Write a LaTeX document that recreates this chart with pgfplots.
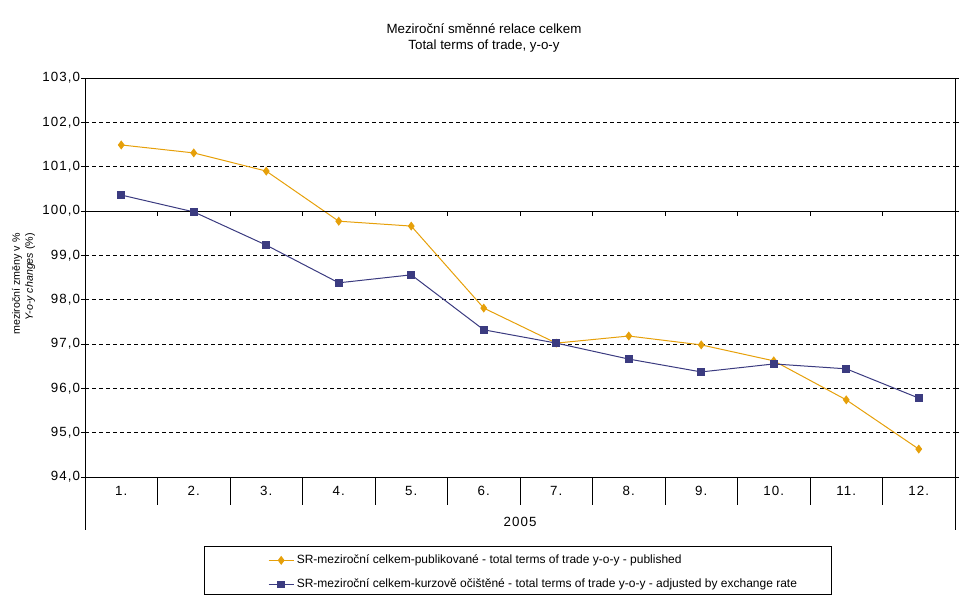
\documentclass[border=0pt]{standalone}
\usepackage{pgfplots}
\pgfplotsset{compat=1.18}
\usepackage{fontspec}
\setmainfont{Liberation Sans}
\newfontfamily\tickfont[LetterSpace=8]{Liberation Sans}
\definecolor{pub}{RGB}{230,160,10}
\definecolor{adj}{RGB}{59,59,128}
\begin{document}
\begin{tikzpicture}
\useasboundingbox (0,0) rectangle (726.75bp,452.25bp);
\begin{axis}[
  at={(63.75bp,94.5bp)}, anchor=south west,
  scale only axis, width=652.5bp, height=299.25bp,
  xmin=0.5, xmax=12.5, ymin=94, ymax=103,
  xtick={1,...,12},
  xticklabels={1.,2.,3.,4.,5.,6.,7.,8.,9.,10.,11.,12.},
  x tick style={draw=none},
  xticklabel style={anchor=center, yshift=-7.5bp},
  ytick={94,...,103},
  tick align=outside, major tick length=3bp,
  y tick style={black, line width=0.75bp},
  yticklabel style={inner xsep=0.5bp, /pgf/number format/.cd, fixed, fixed zerofill, precision=1, use comma},
  /pgf/number format/assume math mode=true,
  ymajorgrids,
  grid style={black, dash pattern=on 3bp off 2.25bp, line width=0.75bp},
  axis line style={line width=0.75bp},
  tick label style={font=\tickfont\fontsize{10bp}{12bp}\selectfont},
  clip=false,
  legend style={draw=none, fill=none, at={(0.2103,-0.1880)}, anchor=north west,
    inner sep=0pt, row sep=6bp, font=\fontsize{9bp}{10.5bp}\selectfont},
  legend cell align=left,
  legend image code/.code={\draw[mark repeat=2,mark phase=2]
    plot coordinates {(0cm,0cm)(0.33cm,0cm)(0.66cm,0cm)};},
]
\addplot[color=pub, line width=0.75bp, mark=diamond*, mark size=2.8bp,
  mark options={fill=pub, draw=pub}]
  coordinates {(1,101.49)(2,101.31)(3,100.90)(4,99.77)(5,99.66)(6,97.81)
               (7,97.02)(8,97.18)(9,96.98)(10,96.62)(11,95.74)(12,94.63)};
\addlegendentry{SR-meziroční celkem-publikované - total terms of trade y-o-y - published}
\addplot[color=adj, line width=0.75bp, mark=square*, mark size=2.5bp,
  mark options={fill=adj, draw=adj}]
  coordinates {(1,100.36)(2,99.98)(3,99.23)(4,98.38)(5,98.56)(6,97.32)
               (7,97.02)(8,96.66)(9,96.37)(10,96.55)(11,96.44)(12,95.78)};
\addlegendentry{SR-meziroční celkem-kurzově očištěné - total terms of trade y-o-y - adjusted by exchange rate}
\draw[line width=0.75bp] (axis cs:0.5,100) -- (axis cs:12.5,100);
\pgfplotsinvokeforeach{1.5,2.5,...,11.5}{
  \draw[line width=0.75bp] (axis cs:#1,100) -- ([yshift=-3.75bp]axis cs:#1,100);
  \draw[line width=0.75bp] (axis cs:#1,94) -- ([yshift=-21bp]axis cs:#1,94);
}
\draw[line width=0.75bp] (axis cs:0.5,94) -- ([yshift=-39.75bp]axis cs:0.5,94);
\draw[line width=0.75bp] (axis cs:12.5,94) -- ([yshift=-39.75bp]axis cs:12.5,94);
\node[font=\tickfont\fontsize{10bp}{12bp}\selectfont] at ([yshift=-33.75bp]axis cs:6.5,94) {2005};
\draw[line width=0.75bp] (rel axis cs:0.1379,-0.1754) rectangle (rel axis cs:0.8586,-0.2957);
\end{axis}
\node[font=\fontsize{10bp}{12bp}\selectfont] at (363bp,430.5bp) {Meziroční směnné relace celkem};
\node[font=\fontsize{10bp}{12bp}\selectfont] at (363bp,417.5bp) {Total terms of trade, y-o-y};
\node[rotate=90, font=\fontsize{8bp}{10bp}\selectfont] at (12.75bp,239.25bp) {meziroční změny v \%};
\node[rotate=90, font=\fontsize{8bp}{10bp}\selectfont] at (22.5bp,244.5bp) {\textit{Y-o-y changes} (\%)};
\end{tikzpicture}
\end{document}
